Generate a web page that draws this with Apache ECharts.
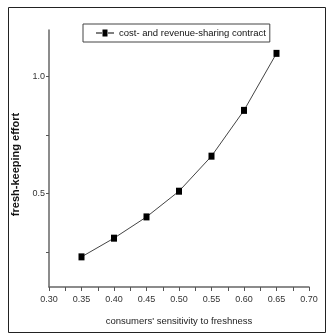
<!DOCTYPE html>
<html>
<head>
<meta charset="utf-8">
<script src="https://cdn.jsdelivr.net/npm/echarts@6/dist/echarts.min.js"></script>
<style>
  html, body { margin: 0; padding: 0; background: #fff; }
  #chart { width: 328px; height: 335px; }
</style>
</head>
<body>
<div id="chart"></div>
<script>
// Sensitivity of consumers to freshness (x) against fresh-keeping effort (y)
const sensitivity = [0.35, 0.40, 0.45, 0.50, 0.55, 0.60, 0.65];
const effort = [0.229, 0.309, 0.40, 0.51, 0.66, 0.856, 1.10];
const seriesName = 'cost- and revenue-sharing contract';

const xTicks = [0.30, 0.325, 0.35, 0.375, 0.40, 0.425, 0.45, 0.475, 0.50, 0.525, 0.55, 0.575, 0.60, 0.625, 0.65, 0.675, 0.70];
const xLabels = [0.30, 0.35, 0.40, 0.45, 0.50, 0.55, 0.60, 0.65, 0.70];
const yTicks = [0.25, 0.5, 0.75, 1.0];
const yLabels = [0.5, 1.0];

const chart = echarts.init(document.getElementById('chart'), null, { renderer: 'canvas' });

const sans = 'Liberation Sans, Arial, sans-serif';
const axisFont = { fontFamily: sans, fontSize: 9, color: '#333' };

chart.setOption({
  animation: false,
  backgroundColor: '#fff',
  graphic: [
    {
      type: 'rect',
      shape: { x: 8.5, y: 7.5, width: 317, height: 325 },
      style: { fill: 'none', stroke: '#222', lineWidth: 1 },
      silent: true
    }
  ],
  legend: {
    data: [seriesName],
    left: 83,
    top: 24,
    padding: [4, 4, 4, 13],
    itemWidth: 18,
    itemHeight: 7,
    borderColor: '#444',
    borderWidth: 1,
    textStyle: { fontFamily: sans, fontSize: 9.5, color: '#111' },
    icon: 'path://M0,4.5 L6,4.5 L6,5.5 L0,5.5 Z M12,4.5 L18,4.5 L18,5.5 L12,5.5 Z M6.5,1.5 L11.5,1.5 L11.5,8.5 L6.5,8.5 Z'
  },
  grid: { left: 49, top: 30, right: 19, bottom: 48 },
  xAxis: {
    type: 'value',
    min: 0.30,
    max: 0.70,
    name: "consumers' sensitivity to freshness",
    nameLocation: 'middle',
    nameGap: 29,
    nameTextStyle: { fontFamily: sans, fontSize: 9.5, color: '#222' },
    axisLine: { show: true, onZero: false, lineStyle: { color: '#666', width: 1.5 } },
    axisTick: { show: true, inside: false, length: 4, customValues: xTicks, lineStyle: { color: '#555' } },
    axisLabel: {
      customValues: xLabels,
      margin: 8,
      formatter: v => v.toFixed(2),
      ...axisFont
    },
    splitLine: { show: false }
  },
  yAxis: {
    type: 'value',
    min: 0.1,
    max: 1.2,
    name: 'fresh-keeping effort',
    nameLocation: 'middle',
    nameGap: 23,
    nameTextStyle: { fontFamily: sans, fontSize: 11, fontWeight: 'bold', color: '#111', padding: [0, 12, 0, 0] },
    axisLine: { show: true, onZero: false, lineStyle: { color: '#666', width: 1.5 } },
    axisTick: { show: true, inside: false, length: 3, customValues: yTicks, lineStyle: { color: '#555' } },
    axisLabel: {
      customValues: yLabels,
      margin: 4,
      formatter: v => v.toFixed(1),
      ...axisFont
    },
    splitLine: { show: false }
  },
  series: [
    {
      name: seriesName,
      type: 'line',
      data: sensitivity.map((x, i) => [x, effort[i]]),
      smooth: false,
      symbol: 'rect',
      symbolSize: [6, 7],
      itemStyle: { color: '#000' },
      lineStyle: { color: '#444', width: 1 }
    }
  ]
});
</script>
</body>
</html>
